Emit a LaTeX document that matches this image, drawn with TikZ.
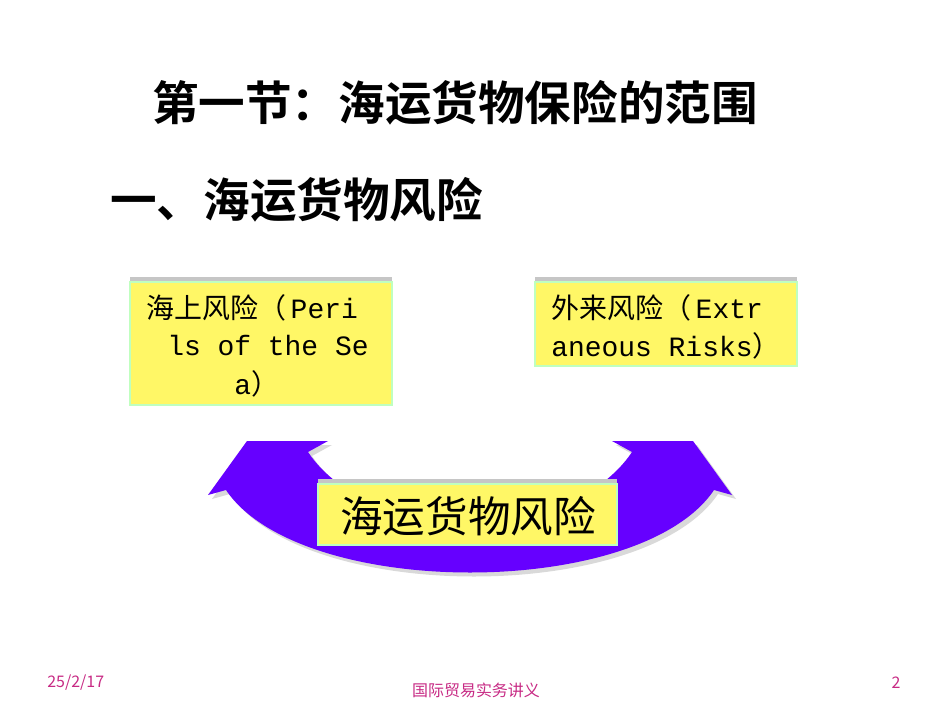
\documentclass[tikz,border=0pt]{standalone}
\usepackage{fontspec}
\newfontfamily\cjk{Noto Sans CJK SC}
\newfontfamily\cjkb{Noto Sans CJK SC Bold}
\newfontfamily\mono{Liberation Mono}
\begin{document}
\begin{tikzpicture}[x=0.0264cm,y=-0.0264cm,
  box/.style={fill=yellow!60!white,draw=green!25!white,line width=0.8pt},
  strip/.style={fill=gray!45},
  ln/.style={anchor=west,inner sep=0pt,font=\fontsize{21}{24}\selectfont},
  foot/.style={text=magenta!80!black,inner sep=0pt,font=\fontsize{12}{14}\selectfont}]
\useasboundingbox (0,0) rectangle (950,713);
\node[inner sep=0pt,font=\cjkb\fontsize{35}{40}\selectfont] (title) at (455,103) {第一节：海运货物保险的范围};
\node[anchor=west,inner sep=0pt,font=\cjkb\fontsize{35}{40}\selectfont] (sub) at (110,200) {一、海运货物风险};
% left box
\fill[strip] (130,277) rectangle (392,283);
\draw[box] (130,282) rectangle (392,405);
\node[ln] (l1) at (146,308) {\cjk 海上风险（\mono\,Peri};
\node[ln] (l2) at (167,346) {\mono ls of the Se};
\node[ln] (l3) at (234,384) {\mono a\cjk ）};
% right box
\fill[strip] (535,277) rectangle (797,283);
\draw[box] (535,282) rectangle (797,366);
\node[ln] (r1) at (551,308) {\cjk 外来风险（\mono\,Extr};
\node[ln] (r2) at (551,346) {\mono aneous Risks\cjk ）};
% arrow shadow
\fill[gray!30,shift={(4,4)}] (226,490) .. controls (300,600) and (640,600) .. (714,490)
  -- (732,495) -- (693,441) -- (612,441) -- (632,452)
  .. controls (570,545) and (370,545) .. (308,452)
  -- (328,441) -- (247,441) -- (208,495) -- cycle;
\fill[fill={rgb,255:red,102;green,0;blue,255}] (226,490) .. controls (300,600) and (640,600) .. (714,490)
  -- (732,495) -- (693,441) -- (612,441) -- (632,452)
  .. controls (570,545) and (370,545) .. (308,452)
  -- (328,441) -- (247,441) -- (208,495) -- cycle;
% center box
\fill[strip] (318,479) rectangle (617,485);
\draw[box] (318,484) rectangle (617,545);
\node[inner sep=0pt,font=\cjk\fontsize{32}{36}\selectfont] (c) at (468,516) {海运货物风险};
% footer
\node[foot,anchor=west] (d) at (47,683) {\cjk 25/2/17};
\node[foot] (f) at (476,690) {\cjk 国际贸易实务讲义};
\node[foot] (p) at (896,683) {\cjk 2};
\end{tikzpicture}
\end{document}
